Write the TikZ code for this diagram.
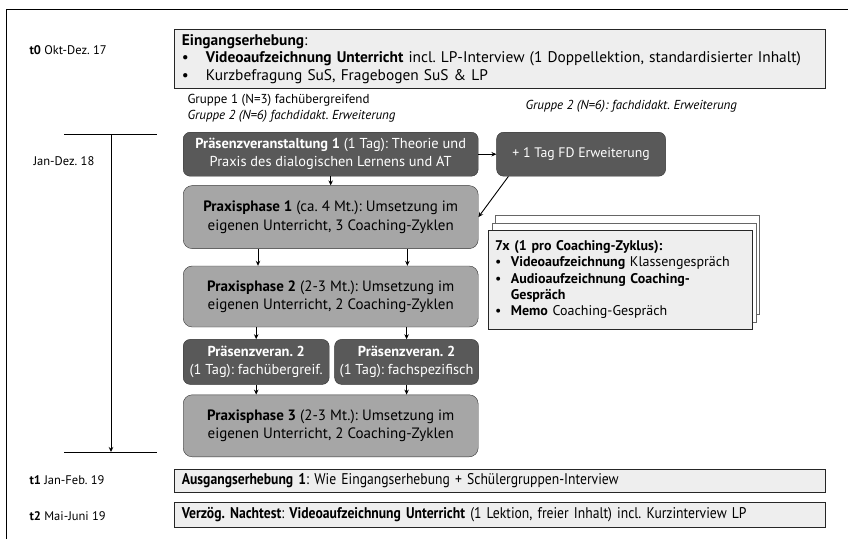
\documentclass[tikz,border=0pt]{standalone}
\usepackage{fontspec}
\setmainfont{PT Sans}
\newfontfamily\condfont{PT Sans}[FakeStretch=0.88]
\usepackage{tikz}
\usetikzlibrary{arrows.meta,positioning,shadows}
\definecolor{colDark}{HTML}{595959}
\definecolor{colMid}{HTML}{A6A6A6}
\definecolor{colLight}{HTML}{EEEEEE}
\newcommand{\bul}{\textbullet\hspace{1.1em}}
\frenchspacing

\begin{document}
\begin{tikzpicture}[x=1pt, y=-1pt,
  ebox/.style={draw=black!85, fill=colLight, line width=0.8pt, anchor=north west,
               align=left, inner xsep=7.5pt, minimum width=651pt, text width=636pt,
               font=\fontsize{15.4}{17.5}\selectfont},
  cbox/.style={ebox, font=\condfont\fontsize{15.5}{17}\selectfont},
  dbox/.style={draw=black!80, fill=colDark, rounded corners=7pt, text=white,
               align=center, minimum height=44pt, inner sep=1pt,
               font=\fontsize{14.4}{18}\selectfont},
  pbox/.style={draw=black!80, fill=colMid, rounded corners=9pt, align=center,
               minimum width=295pt, inner sep=2pt, font=\fontsize{15}{18.5}\selectfont},
  mbox/.style={draw=black!85, fill=colLight, anchor=north west, align=left,
               minimum width=264pt, minimum height=99pt, text width=250pt,
               font=\fontsize{14}{16.3}\selectfont,
               double copy shadow={shadow xshift=3.5pt, shadow yshift=7.5pt,
                                   fill=white, draw=black!60}},
  tlbl/.style={anchor=west, font=\fontsize{12.5}{14}\selectfont},
  glbl/.style={anchor=west, font=\fontsize{13}{15}\selectfont},
  arr/.style={-{Stealth[length=5pt, width=4.5pt]}, line width=0.9pt}
]
  \useasboundingbox (0,0) rectangle (848,539);
  \draw[line width=0.8pt] (6,539) -- (6,9) -- (848,9);

  % Zeitachse
  \node[tlbl] (t0) at (26,50) {\textbf{t0} Okt-Dez. 17};
  \node[tlbl] (t18) at (30,161) {Jan-Dez. 18};
  \node[tlbl] (t1) at (26,480) {\textbf{t1} Jan-Feb. 19};
  \node[tlbl] (t2) at (26,516) {\textbf{t2} Mai-Juni 19};
  \coordinate (tTop) at (111,134);
  \coordinate (tBot) at (111,452);
  \draw[line width=1pt] ([xshift=-47pt]tTop) -- ([xshift=46pt]tTop);
  \draw[line width=1pt] ([xshift=-47pt]tBot) -- ([xshift=46pt]tBot);
  \draw[arr] (tTop) -- (tBot);

  % Erhebungen
  \node[ebox, minimum height=59pt] (eing) at (174,29)
    {\textbf{Eingangserhebung}:\\
     \bul\textbf{Videoaufzeichnung Unterricht} incl. LP-Interview (1 Doppellektion, standardisierter Inhalt)\\
     \bul Kurzbefragung SuS, Fragebogen SuS \& LP};
  \node[cbox, minimum height=23pt] (ausg) at (174,469)
    {\textbf{Ausgangserhebung 1}: Wie Eingangserhebung + Schülergruppen-Interview};
  \node[cbox, minimum height=25pt] (nach) at (174,502)
    {\textbf{Verzög. Nachtest}: \textbf{Videoaufzeichnung Unterricht} (1 Lektion, freier Inhalt) incl. Kurzinterview LP};

  \node[glbl] (g1) at (184,100) {Gruppe 1 (N=3) fachübergreifend};
  \node[glbl] (g2) at (184,116) {\itshape Gruppe 2 (N=6) fachdidakt. Erweiterung};
  \node[glbl] (g2r) at (522,106) {\itshape Gruppe 2 (N=6): fachdidakt. Erweiterung};

  % Ablauf
  \node[dbox, minimum width=295pt, anchor=north west] (pv1) at (183,132)
    {\textbf{Präsenzveranstaltung 1} (1 Tag): Theorie und\\Praxis des dialogischen Lernens und AT};
  \node[dbox, minimum width=169pt, right=18pt of pv1, font=\fontsize{13.8}{16}\selectfont] (fd)
    {+ 1 Tag FD Erweiterung};
  \node[pbox, minimum height=63pt, below=9pt of pv1] (pp1)
    {\textbf{Praxisphase 1} (ca. 4 Mt.): Umsetzung im\\eigenen Unterricht, 3 Coaching-Zyklen};
  \node[pbox, minimum height=61pt, below=17pt of pp1] (pp2)
    {\textbf{Praxisphase 2} (2-3 Mt.): Umsetzung im\\eigenen Unterricht, 2 Coaching-Zyklen};
  \node[dbox, minimum width=146pt, minimum height=45pt, below=12pt of pp2.south west, anchor=north west] (pv2a)
    {\textbf{Präsenzveran. 2}\\(1 Tag): fachübergreif.};
  \node[dbox, minimum width=144pt, minimum height=45pt, right=5pt of pv2a] (pv2b)
    {\textbf{Präsenzveran. 2}\\(1 Tag): fachspezifisch};
  \node[pbox, minimum height=62pt, below=10pt of pv2a.south west, anchor=north west] (pp3)
    {\textbf{Praxisphase 3} (2-3 Mt.): Umsetzung im\\eigenen Unterricht, 2 Coaching-Zyklen};

  \node[mbox] (memo) at (488,230)
    {\textbf{7x (1 pro Coaching-Zyklus):}\\
     \textbullet~~\textbf{Videoaufzeichnung} Klassengespräch\\
     \textbullet~~\textbf{Audioaufzeichnung Coaching-}\\
     \hphantom{\textbullet~~}\textbf{Gespräch}\\
     \textbullet~~\textbf{Memo} Coaching-Gespräch};

  \draw[arr] (pv1) -- (fd);
  \draw[arr] (pv1) -- (pp1);
  \draw[arr] ([xshift=12pt]fd.south west) -- (pp1.east);
  \draw[arr] ([xshift=75pt]pp1.south west) -- ([xshift=75pt]pp2.north west);
  \draw[arr] ([xshift=-71pt]pp1.south east) -- ([xshift=-71pt]pp2.north east);
  \draw[arr] (pp2.south -| pv2a) -- (pv2a);
  \draw[arr] (pp2.south -| pv2b) -- (pv2b);
  \draw[arr] (pv2a) -- (pp3.north -| pv2a);
  \draw[arr] (pv2b) -- (pp3.north -| pv2b);
\end{tikzpicture}
\end{document}
